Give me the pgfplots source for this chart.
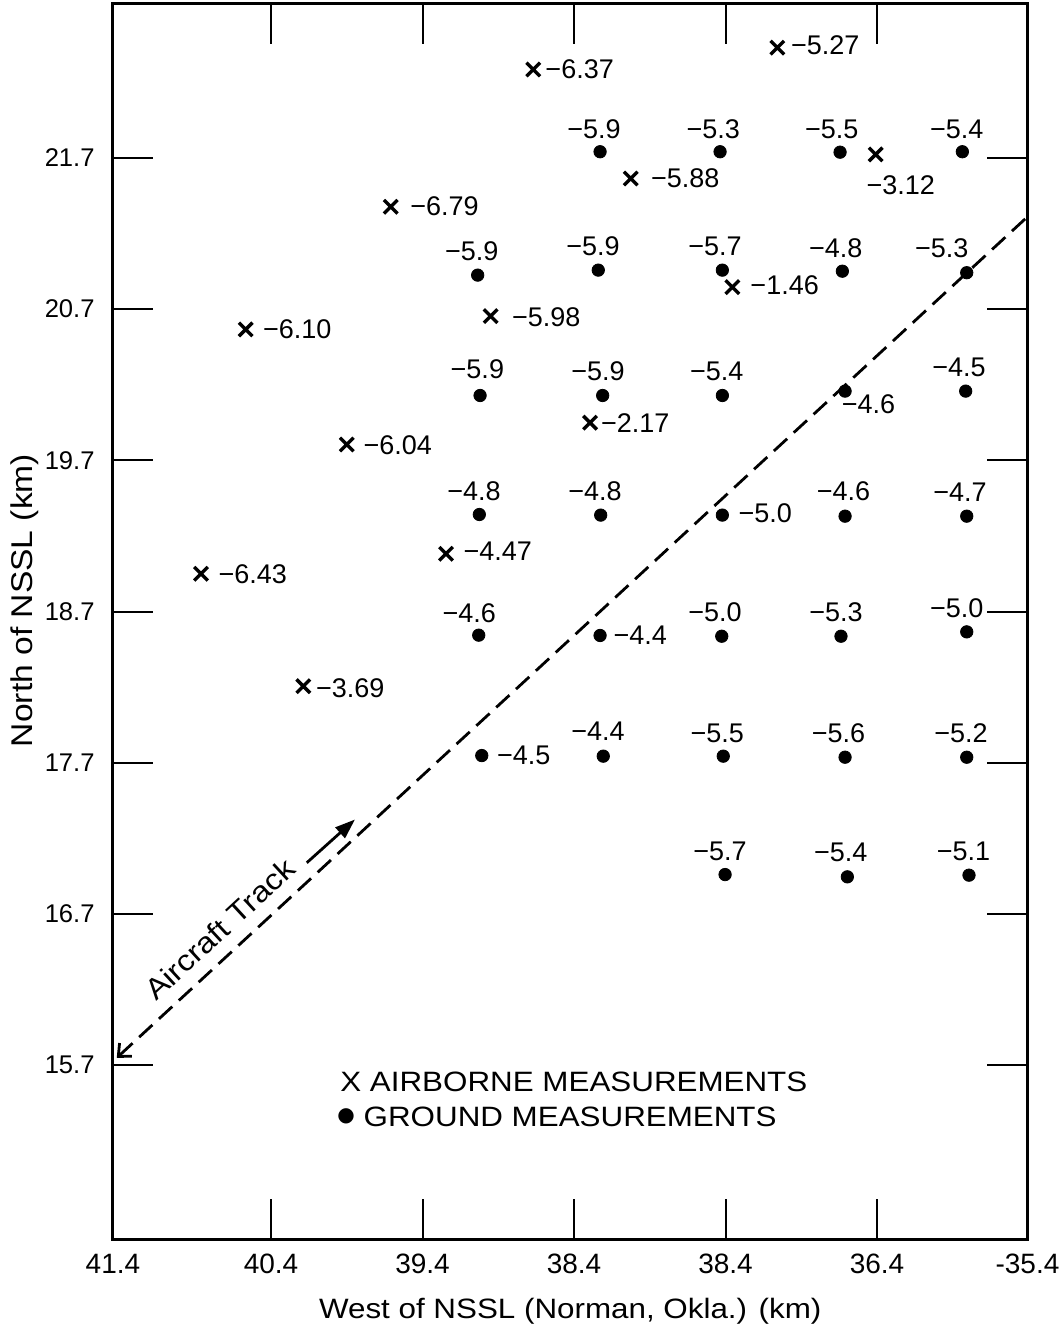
\documentclass[border=0pt]{standalone}
\usepackage{fontspec}
\setmainfont{Liberation Sans}[FakeStretch=1.12]
\newfontfamily\lab{Liberation Sans}
\newfontfamily\dejavu{DejaVu Sans}
\usepackage{pgfplots}
\pgfplotsset{compat=1.18}
\usetikzlibrary{arrows.meta}
\begin{document}
\begin{tikzpicture}
\useasboundingbox (-56.5pt,-44pt) rectangle (474.5pt,619.5pt);
\begin{axis}[
  at={(0,0)}, anchor=south west,
  scale only axis, width=457.25pt, height=617.5pt,
  x dir=reverse,
  xmin=35.407, xmax=41.443, ymin=14.551, ymax=22.718,
  clip=false,
  axis line style={line width=1.5pt},
  xtick={41.443,40.4,39.4,38.4,37.4,36.4,35.407},
  xticklabels={41.4,40.4,39.4,38.4,38.4,36.4,-35.4},
  ytick={15.7,16.7,17.7,18.7,19.7,20.7,21.7},
  yticklabels={15.7,16.7,17.7,18.7,19.7,20.7,21.7},
  xtick pos=both, ytick pos=both,
  tick align=inside,
  major tick length=20pt,
  major tick style={line width=1pt, black},
  xticklabel style={font=\lab\fontsize{14}{16}\selectfont, anchor=base, inner sep=0pt, yshift=-17.2pt},
  yticklabel style={font=\lab\fontsize{12.8}{14}\selectfont, anchor=east, inner sep=0pt, xshift=-9pt},
  xlabel={West of NSSL (Norman, Okla.) (km)},
  xlabel style={at={(axis description cs:0.5,0)}, anchor=base, yshift=-39.5pt, inner sep=0pt, font=\fontsize{14}{16}\selectfont},
  ylabel={North of NSSL (km)},
  ylabel style={at={(axis description cs:-0.0962,0.517)}, anchor=center, inner sep=0pt, font=\fontsize{15}{17}\selectfont},
]
% ground measurements
\addplot[only marks, mark=*, mark size=3.1pt, black] table {
x y
38.228 21.741
37.436 21.741
36.644 21.738
35.837 21.741
39.036 20.925
38.240 20.958
37.421 20.958
36.629 20.951
35.808 20.941
39.020 20.129
38.211 20.129
37.421 20.129
36.611 20.158
35.815 20.158
39.025 19.342
38.224 19.338
37.421 19.338
36.611 19.331
35.808 19.331
39.029 18.544
38.228 18.542
37.425 18.537
36.638 18.537
35.808 18.566
39.009 17.748
38.207 17.744
37.415 17.744
36.611 17.737
35.808 17.737
37.403 16.961
36.596 16.946
35.793 16.957
};
% airborne measurements
\addplot[only marks, mark=x, mark size=4.8pt, black, mark options={line width=1.7pt}] table {
x y
37.058 22.429
38.669 22.285
38.026 21.564
36.409 21.723
39.610 21.377
37.355 20.846
38.950 20.654
40.567 20.566
38.294 19.949
39.900 19.805
39.245 19.082
40.862 18.950
40.187 18.207
};
% aircraft track
\addplot[black, line width=1.4pt, dash pattern=on 9pt off 4.5pt, arrows={Straight Barb[length=5pt,width=9pt]-}] coordinates {(41.418,15.749) (35.407,21.311)};
\addplot[black, line width=1.4pt, arrows={-Triangle[length=10pt,width=7pt]}] coordinates {(40.164,17.039) (39.846,17.325)};
% labels to the right of points
\addplot[draw=none, mark=none, nodes near coords, point meta=explicit symbolic,
  nodes near coords style={anchor=west, inner sep=0pt, text=black, font=\lab\fontsize{13.5}{15}\selectfont}]
  table[meta=l] {
x y l
36.970 22.444 −5.27
38.591 22.285 −6.37
37.894 21.564 −5.88
39.483 21.381 −6.79
37.238 20.859 −1.46
38.811 20.650 −5.98
40.455 20.566 −6.10
38.224 19.944 −2.17
39.791 19.801 −6.04
39.131 19.096 −4.47
40.748 18.945 −6.43
40.105 18.196 −3.69
37.316 19.353 −5.0
38.141 18.542 −4.4
38.910 17.748 −4.5
};
% labels centred above (or below) points
\addplot[draw=none, mark=none, nodes near coords, point meta=explicit symbolic,
  nodes near coords style={anchor=center, inner sep=0pt, text=black, font=\lab\fontsize{13.5}{15}\selectfont}]
  table[meta=l] {
x y l
36.244 21.520 −3.12
38.268 21.888 −5.9
37.481 21.888 −5.3
36.699 21.888 −5.5
35.874 21.888 −5.4
39.075 21.084 −5.9
38.275 21.115 −5.9
37.469 21.117 −5.7
36.673 21.106 −4.8
35.973 21.106 −5.3
39.038 20.301 −5.9
38.242 20.288 −5.9
37.458 20.290 −5.4
36.457 20.070 −4.6
35.859 20.312 −4.5
39.060 19.496 −4.8
38.261 19.496 −4.8
36.622 19.496 −4.6
35.852 19.490 −4.7
39.091 18.692 −4.6
37.469 18.696 −5.0
36.671 18.696 −5.3
35.874 18.725 −5.0
38.242 17.907 −4.4
37.454 17.898 −5.5
36.655 17.898 −5.6
35.846 17.894 −5.2
37.436 17.115 −5.7
36.640 17.105 −5.4
35.830 17.115 −5.1
};
\node[rotate=42.7, inner sep=0pt, font=\fontsize{14.5}{16}\selectfont] at (axis cs:40.738,16.600) {Aircraft Track};
\node[anchor=base west, inner sep=0pt, font=\fontsize{14}{16}\selectfont] at (axis description cs:0.2482,0.1193) {X AIRBORNE MEASUREMENTS};
\node[anchor=center, inner sep=0pt, font=\dejavu\fontsize{10}{10}\selectfont] at (axis description cs:0.2548,0.0990) {●};
\node[anchor=base west, inner sep=0pt, font=\fontsize{14}{16}\selectfont] at (axis description cs:0.2737,0.0909) {GROUND MEASUREMENTS};
\end{axis}
\end{tikzpicture}
\end{document}
